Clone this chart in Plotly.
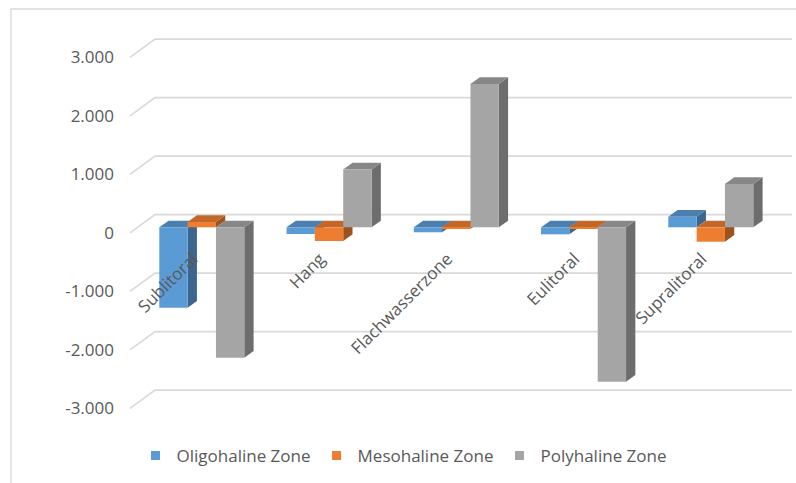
import plotly.graph_objects as go

# ---- data ----
categories = ["Sublitoral", "Hang", "Flachwasserzone", "Eulitoral", "Supralitoral"]
series_names = ["Oligohaline Zone", "Mesohaline Zone", "Polyhaline Zone"]
oligohaline = [-1375, -115, -85, -120, 181]
mesohaline = [90, -234, -30, -15, -246]
polyhaline = [-2230, 990, 2450, -2640, 740]
tick_values = [-3000, -2000, -1000, 0, 1000, 2000, 3000]
tick_labels = ["-3.000", "-2.000", "-1.000", "0", "1.000", "2.000", "3.000"]

# ---- styles ----
front_colors = ["#5B9BD5", "#ED7D31", "#A5A5A5"]
top_colors = ["#4B7FAF", "#C26728", "#878787"]
side_colors = ["#3C668D", "#9C5320", "#6D6D6D"]
FONT = "Open Sans"
TXT = "#595959"
GRID = "#D9D9D9"
FS = 17

series = [oligohaline, mesohaline, polyhaline]
n_series = len(series)
bargap = 0.332
bw = (1 - bargap) / n_series

# pseudo-3D geometry (in axis units)
bar_dx, bar_dy = 0.0731, 114.0        # bar depth offset
wall_front_x, wall_back_x, wall_end_x = -0.5643, -0.3678, 4.638
wall_front_dv, wall_back_dv = -94.0, 217.0
xrange_main = [-0.635, 4.6696]
label_shift = 0.07

fig = go.Figure()
xs = list(range(len(categories)))
for k in range(n_series):
    fig.add_trace(go.Bar(
        x=xs, y=series[k], name=series_names[k], width=bw,
        marker=dict(color=front_colors[k], line=dict(width=0)),
        showlegend=False, hoverinfo="skip"))
# legend entries
for k in range(n_series):
    fig.add_trace(go.Scatter(
        x=[None], y=[None], mode="markers", name=series_names[k],
        marker=dict(symbol="square", size=9, color=front_colors[k]),
        showlegend=True))
# dummy trace for category label axis
fig.add_trace(go.Scatter(x=xs, y=[None] * len(xs), xaxis="x2", yaxis="y",
                         mode="markers", showlegend=False, hoverinfo="skip"))

shapes = []
# chart border
shapes.append(dict(type="rect", xref="paper", yref="paper",
                   x0=-0.163, x1=1.2, y0=-0.5, y1=1.0268,
                   line=dict(color=GRID, width=1.3), layer="below"))
# gridlines (front diagonal + back wall)
for t in tick_values:
    path = (f"M {wall_front_x},{t + wall_front_dv} L {wall_back_x},{t + wall_back_dv} "
            f"L {wall_end_x},{t + wall_back_dv}")
    shapes.append(dict(type="path", xref="x", yref="y", path=path,
                       line=dict(color=GRID, width=1.6), layer="below"))

side_shapes, top_shapes = [], []
for c in xs:
    for k in range(n_series):
        v = series[k][c]
        xl = c + (k - 1.5) * bw
        xr = xl + bw
        lo, hi = min(0, v), max(0, v)
        side = (f"M {xr},{lo} L {xr + bar_dx},{lo + bar_dy} L {xr + bar_dx},{hi + bar_dy} "
                f"L {xr},{hi} Z")
        side_shapes.append(dict(type="path", xref="x", yref="y", path=side,
                                fillcolor=side_colors[k], line=dict(width=0), layer="below"))
        top = (f"M {xl},{hi} L {xr},{hi} L {xr + bar_dx},{hi + bar_dy} "
               f"L {xl + bar_dx},{hi + bar_dy} Z")
        top_shapes.append(dict(type="path", xref="x", yref="y", path=top,
                               fillcolor=top_colors[k], line=dict(width=0), layer="below"))
shapes += side_shapes + top_shapes

fig.update_layout(
    template="none",
    width=796, height=483,
    margin=dict(l=121, r=0, t=20, b=53, autoexpand=False),
    paper_bgcolor="white", plot_bgcolor="rgba(0,0,0,0)",
    barmode="group", bargap=bargap, bargroupgap=0,
    font=dict(family=FONT, size=FS, color=TXT),
    shapes=shapes,
    xaxis=dict(range=xrange_main, showgrid=False, zeroline=False,
               showline=False, showticklabels=False, ticks=""),
    xaxis2=dict(range=[xrange_main[0] + label_shift, xrange_main[1] + label_shift],
                overlaying="x", anchor="free",
                position=0.452, side="bottom", showgrid=False, zeroline=False,
                showline=False, ticks="", tickvals=xs, ticktext=categories,
                tickangle=-45, tickfont=dict(family=FONT, size=FS, color=TXT)),
    yaxis=dict(range=[-3465, 3543.6], showgrid=False, zeroline=False, showline=False,
               ticks="", tickvals=[t + wall_front_dv for t in tick_values],
               ticktext=tick_labels, ticklabelstandoff=6,
               tickfont=dict(family=FONT, size=FS, color=TXT)),
    legend=dict(orientation="h", x=0.02, xanchor="left", y=-0.063, yanchor="middle",
                font=dict(family=FONT, size=FS, color=TXT), bgcolor="rgba(0,0,0,0)",
                itemwidth=32, itemclick=False),
    hovermode=False,
)

fig.write_html("out.html")
